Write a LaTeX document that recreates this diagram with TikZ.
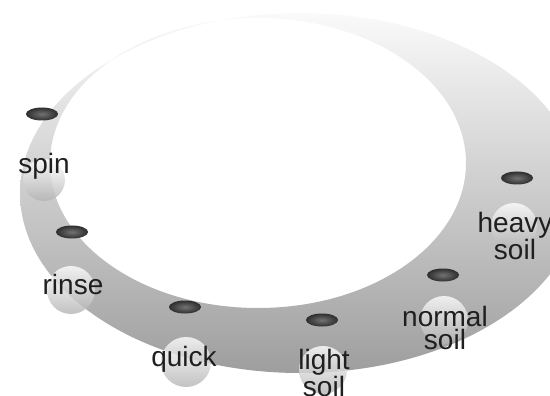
\documentclass[tikz,border=0pt]{standalone}
\usepackage{fontspec}
\setmainfont{Liberation Sans}
\usetikzlibrary{shapes.geometric}

\tikzset{
  lbl/.style={text=black!88, align=center, inner sep=0pt,
    font=\fontsize{28}{23}\selectfont},
  knob/.style={ellipse, minimum width=32pt, minimum height=13pt, inner sep=0pt,
    shade, inner color=black!55, outer color=black!82},
  bubble/.style={top color=white, bottom color=black!30, opacity=.8}
}

\begin{document}
\begin{tikzpicture}[x=1pt,y=-1pt]
\useasboundingbox (0,0) rectangle (550,396);
\clip (0,0) rectangle (550,396);

% the dial ring
\shade[even odd rule, top color=black!2, middle color=black!24, bottom color=black!38]
(300,193) ellipse (280 and 180)
(258,163) ellipse (208 and 145);

% bubbles behind the labels
\shade[bubble] (44,180) circle (21);
\shade[bubble] (71,290) circle (24);
\shade[bubble] (186,362) circle (25);
\shade[bubble] (323,370) circle (24);
\shade[bubble] (444,320) circle (24);
\shade[bubble] (514,226) circle (23);

% knobs on the ring
\node[knob] (k-spin) at (42,114) {};
\node[knob] (k-rinse) at (72,232) {};
\node[knob] (k-quick) at (185,307) {};
\node[knob] (k-light) at (322,320) {};
\node[knob] (k-normal) at (443,275) {};
\node[knob] (k-heavy) at (517,178) {};

% programme names
\node[lbl] (spin) at (44,166) {spin};
\node[lbl] (rinse) at (73,284) {rinse};
\node[lbl] (quick) at (184,359) {quick};
\node[lbl] (light) at (324,373) {light\\soil};
\node[lbl] (normal) at (445,328) {normal\\soil};
\node[lbl] (heavy) at (515,236) {heavy\\soil};
\end{tikzpicture}
\end{document}
